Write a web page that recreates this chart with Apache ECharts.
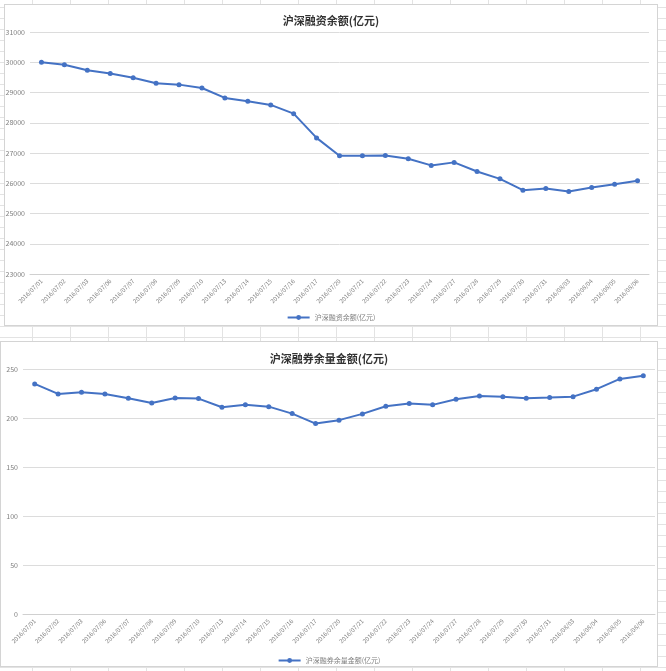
<!DOCTYPE html>
<html>
<head>
<meta charset="utf-8">
<script src="https://cdn.jsdelivr.net/npm/echarts@6/dist/echarts.min.js"></script>
<style>
  html, body { margin: 0; padding: 0; }
  body {
    width: 666px; height: 671px; position: relative; overflow: hidden;
    background-color: #fff;
    background-image:
      linear-gradient(to right, #e3e3e3 1px, transparent 1px),
      linear-gradient(to bottom, #e3e3e3 1px, transparent 1px);
    background-size: 38px 11px, 38px 11px;
    background-position: 32px 0, 0 7px;
  }
  .box {
    position: absolute; box-sizing: border-box;
    border: 1px solid #d4d4d4; background: #fff;
  }
  #top { left: 4px; top: 4px; width: 654px; height: 322px; }
  #bottom { left: 0px; top: 341px; width: 658px; height: 326px; }
</style>
</head>
<body>
<div id="top" class="box"></div>
<div id="bottom" class="box"></div>
<script>
// 日期（横轴）
const dates = [
  '2016/07/01', '2016/07/02', '2016/07/03', '2016/07/06', '2016/07/07', '2016/07/08',
  '2016/07/09', '2016/07/10', '2016/07/13', '2016/07/14', '2016/07/15', '2016/07/16',
  '2016/07/17', '2016/07/20', '2016/07/21', '2016/07/22', '2016/07/23', '2016/07/24',
  '2016/07/27', '2016/07/28', '2016/07/29', '2016/07/30', '2016/07/31', '2016/08/03',
  '2016/08/04', '2016/08/05', '2016/08/06'
];

// 沪深融资余额(亿元)
const financing = [
  30000, 29920, 29735, 29625, 29490, 29305, 29260, 29150, 28820, 28710, 28590, 28300,
  27500, 26910, 26910, 26920, 26810, 26590, 26690, 26390, 26145, 25770, 25830, 25730,
  25860, 25970, 26080
];

// 沪深融券余量金额(亿元)
const lending = [
  234.8, 224.6, 226.3, 224.6, 220.2, 215.4, 220.5, 219.8, 211.0, 213.4, 211.6, 204.5,
  194.3, 197.8, 204.2, 212.0, 214.7, 213.4, 219.2, 222.5, 221.8, 220.2, 220.8, 221.8,
  229.4, 239.9, 243.2
];

const FONT = '"Noto Sans CJK SC", "Noto Sans", sans-serif';
const BLUE = '#4472C4';

// 生成单个折线图配置
function buildOption(title, name, values, yMin, yMax, yStep, grid, titleTop, legendTop) {
  return {
    animation: false,
    textStyle: { fontFamily: FONT },
    title: {
      text: title,
      left: 'center',
      top: titleTop,
      textStyle: { fontSize: 11, fontWeight: 'bold', color: '#333', fontFamily: FONT }
    },
    legend: {
      data: [name],
      top: legendTop,
      left: 'center',
      itemWidth: 22,
      itemHeight: 6,
      textStyle: { fontSize: 7, color: '#7f7f7f', fontFamily: FONT }
    },
    grid: Object.assign({ outerBoundsMode: 'none', containLabel: false }, grid),
    xAxis: {
      type: 'category',
      data: dates,
      boundaryGap: true,
      axisLine: { lineStyle: { color: '#d0d0d0' } },
      axisTick: { show: false },
      axisLabel: {
        rotate: 45,
        interval: 0,
        fontSize: 6,
        color: '#7f7f7f',
        margin: 6,
        fontFamily: FONT
      }
    },
    yAxis: {
      type: 'value',
      min: yMin,
      max: yMax,
      interval: yStep,
      axisLine: { show: false },
      axisTick: { show: false },
      splitLine: { lineStyle: { color: '#dcdcdc' } },
      axisLabel: {
        fontSize: 7, color: '#7f7f7f', margin: 5, fontFamily: FONT,
        formatter: v => String(v)
      }
    },
    series: [{
      name: name,
      type: 'line',
      data: values,
      symbol: 'circle',
      symbolSize: 5,
      lineStyle: { color: BLUE, width: 2 },
      itemStyle: { color: BLUE }
    }]
  };
}

const topChart = echarts.init(document.getElementById('top'));
topChart.setOption(buildOption(
  '沪深融资余额(亿元)', '沪深融资余额(亿元)', financing,
  23000, 31000, 1000,
  { left: 25, right: 8, top: 27, bottom: 51 },
  5, 304
));

const bottomChart = echarts.init(document.getElementById('bottom'));
bottomChart.setOption(buildOption(
  '沪深融券余量金额(亿元)', '沪深融券余量金额(亿元)', lending,
  0, 250, 50,
  { left: 22, right: 2, top: 27, bottom: 52 },
  6, 310
));
</script>
</body>
</html>
